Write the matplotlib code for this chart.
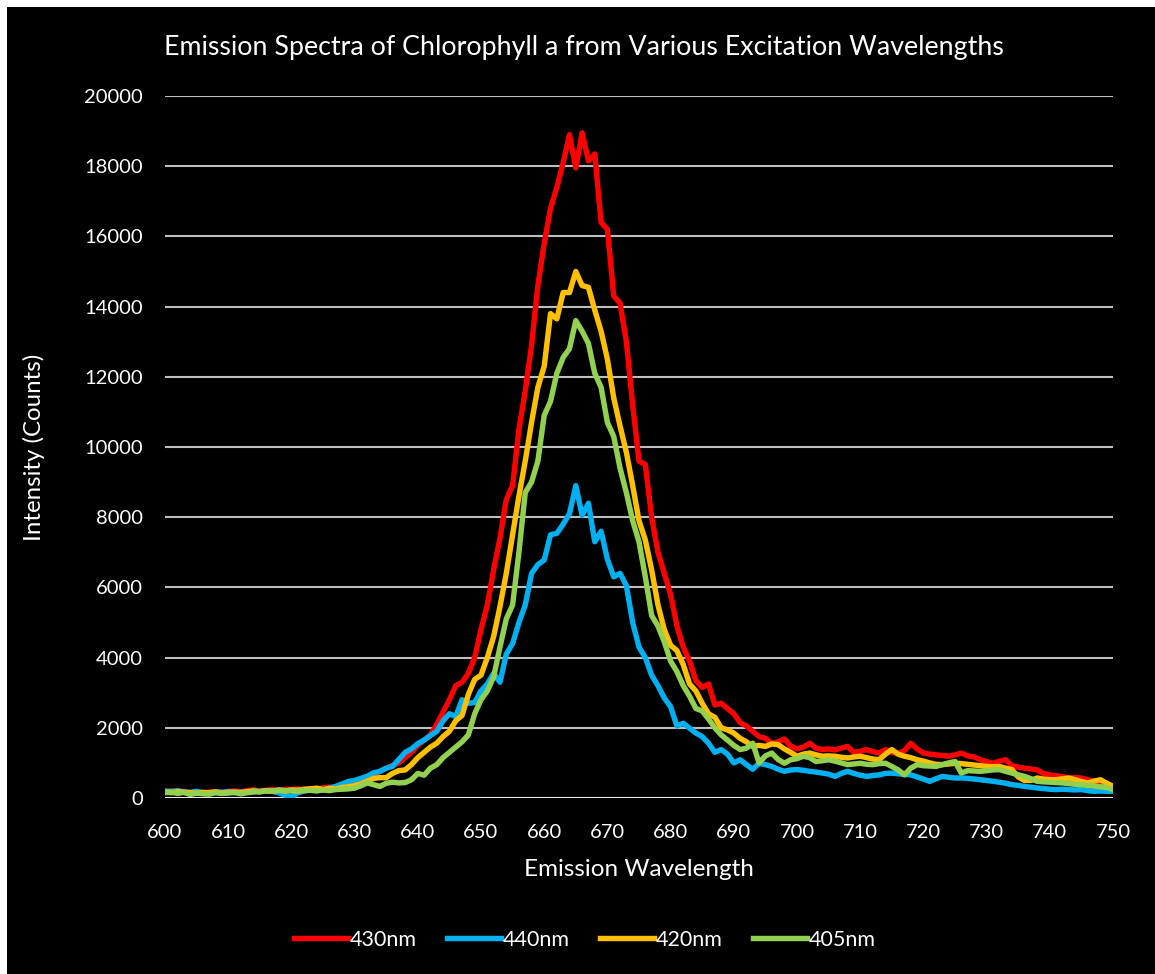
import numpy as np
import matplotlib.pyplot as plt
from matplotlib.patches import Rectangle

# emission wavelength (nm), 1 nm steps
wavelength = list(range(600, 751))

ex_430 = [
    180, 200, 170, 190, 150, 160, 140, 170, 180, 160,
    190, 200, 180, 210, 230, 200, 220, 240, 210, 250,
    240, 260, 230, 270, 260, 290, 310, 300, 350, 380,
    420, 480, 560, 650, 760, 850, 930, 1000, 1150, 1300,
    1500, 1650, 1800, 2100, 2450, 2800, 3200, 3300, 3550, 4000,
    4800, 5500, 6500, 7400, 8500, 8900, 10500, 11600, 12900, 14600,
    15800, 16800, 17400, 18100, 18900, 17950, 18950, 18150, 18350, 16400,
    16200, 14300, 14100, 13000, 11200, 9600, 9500, 8000, 7000, 6400,
    5800, 4900, 4300, 3900, 3350, 3150, 3250, 2650, 2700, 2550,
    2400, 2150, 2050, 1900, 1750, 1700, 1550, 1600, 1680, 1480,
    1400, 1450, 1560, 1420, 1380, 1400, 1370, 1420, 1470, 1300,
    1330, 1380, 1320, 1280, 1380, 1300, 1270, 1350, 1560, 1400,
    1280, 1250, 1230, 1210, 1190, 1230, 1280, 1200, 1170, 1090,
    1040, 990, 1050, 1090, 920, 880, 850, 830, 800, 700,
    660, 630, 610, 570, 580, 570, 520, 475, 450, 420,
    330,
]

ex_440 = [
    200, 180, 210, 170, 160, 190, 150, 140, 170, 160,
    180, 150, 170, 160, 200, 180, 210, 190, 150, 80,
    30, 150, 200, 230, 260, 220, 280, 330, 400, 470,
    500, 560, 620, 720, 760, 850, 900, 1100, 1300, 1400,
    1550, 1650, 1780, 1900, 2200, 2400, 2320, 2800, 2700, 2720,
    3050, 3250, 3550, 3300, 4100, 4400, 5000, 5500, 6400, 6650,
    6780, 7500, 7540, 7800, 8100, 8900, 8050, 8400, 7300, 7600,
    6800, 6300, 6400, 6050, 5000, 4300, 4000, 3500, 3200, 2850,
    2600, 2050, 2130, 1990, 1850, 1750, 1560, 1300, 1380, 1250,
    1000, 1090, 950, 820, 990, 950, 900, 820, 760, 800,
    810, 790, 760, 740, 710, 680, 615, 700, 760, 700,
    650, 615, 640, 660, 700, 710, 690, 670, 660, 600,
    540, 475, 550, 615, 590, 570, 570, 560, 540, 520,
    500, 475, 450, 420, 380, 360, 330, 310, 285, 270,
    250, 240, 250, 240, 230, 240, 210, 190, 200, 190,
    190,
]

ex_420 = [
    170, 150, 180, 160, 150, 140, 160, 150, 170, 140,
    160, 170, 150, 180, 200, 180, 210, 190, 220, 200,
    230, 220, 250, 260, 280, 240, 270, 260, 300, 320,
    350, 400, 480, 560, 580, 580, 700, 780, 800, 950,
    1150, 1300, 1450, 1560, 1750, 1900, 2200, 2350, 2950, 3380,
    3500, 4000, 4600, 5450, 6400, 7500, 8600, 9600, 10700, 11700,
    12300, 13800, 13650, 14400, 14400, 15000, 14600, 14550, 13900, 13300,
    12500, 11400, 10600, 9850, 8900, 7900, 7350, 6500, 5500, 4800,
    4350, 4200, 3800, 3250, 3050, 2700, 2400, 2300, 2000, 1940,
    1850, 1700, 1600, 1470, 1500, 1470, 1540, 1520, 1400, 1300,
    1190, 1250, 1280, 1230, 1190, 1200, 1190, 1160, 1140, 1170,
    1190, 1150, 1110, 1090, 1250, 1380, 1250, 1190, 1150, 1090,
    1050, 1000, 960, 950, 970, 990, 980, 960, 940, 920,
    900, 890, 900, 850, 810, 600, 500, 500, 570, 540,
    520, 520, 550, 570, 520, 470, 430, 480, 520, 420,
    330,
]

ex_405 = [
    150, 170, 130, 160, 100, 140, 120, 110, 150, 130,
    140, 160, 120, 150, 170, 180, 200, 190, 230, 210,
    200, 190, 210, 220, 200, 230, 210, 240, 250, 260,
    280, 350, 430, 380, 330, 420, 450, 430, 440, 520,
    700, 650, 850, 950, 1150, 1300, 1450, 1600, 1800, 2400,
    2800, 3050, 3450, 4300, 5100, 5500, 7000, 8700, 9000, 9600,
    10900, 11300, 12100, 12550, 12800, 13600, 13300, 12950, 12100, 11700,
    10700, 10300, 9400, 8700, 7900, 7300, 6300, 5200, 4900, 4450,
    3900, 3600, 3200, 2900, 2550, 2480, 2250, 2000, 1800, 1650,
    1500, 1380, 1420, 1560, 1000, 1200, 1280, 1100, 990, 1090,
    1120, 1190, 1150, 1040, 1060, 1090, 1050, 1000, 950, 970,
    990, 960, 950, 980, 990, 900, 800, 660, 850, 950,
    920, 910, 900, 950, 1000, 1040, 710, 780, 770, 760,
    780, 800, 810, 760, 710, 660, 615, 550, 475, 460,
    450, 440, 430, 410, 390, 380, 360, 340, 320, 300,
    240,
]

series = [
    ("430nm", ex_430, "#FF0000"),
    ("440nm", ex_440, "#00B0F0"),
    ("420nm", ex_420, "#FFC000"),
    ("405nm", ex_405, "#92D050"),
]

plt.rcParams["font.family"] = ["Lato", "DejaVu Sans"]

fig = plt.figure(figsize=(11.55, 9.74), dpi=100, facecolor="white")
# black chart area (white strip at top and left like the screenshot)
fig.patches.append(Rectangle((7 / 1155, 0), 1, 1 - 7 / 974, transform=fig.transFigure,
                             facecolor="black", edgecolor="none", zorder=-10))

ax = fig.add_axes([165 / 1155, 1 - 798 / 974, (1113 - 165) / 1155, (798 - 96) / 974])
ax.set_zorder(5)
ax.set_facecolor("black")

for name, vals, col in series:
    ax.plot(wavelength, vals, color=col, lw=3.9, label=name, solid_joinstyle="round")

ax.set_xlim(600, 750)
ax.set_ylim(0, 20000)
ax.set_xticks(range(600, 751, 10))
ax.set_yticks(range(0, 20001, 2000))
ax.grid(axis="y", color="#bfbfbf", lw=1.5)
ax.set_axisbelow(True)
ax.axhline(0, color="white", lw=1.8, zorder=1)
for s in ax.spines.values():
    s.set_visible(False)
ax.tick_params(colors="white", labelsize=14.5, length=0)
ax.tick_params(axis="y", pad=16)
ax.tick_params(axis="x", pad=19)

fig.text(584 / 1155, 1 - 47 / 974,
         "Emission Spectra of Chlorophyll a from Various Excitation Wavelengths",
         color="white", fontsize=19.3, ha="center", va="center")
ax.set_xlabel("Emission Wavelength", color="white", fontsize=17.5, labelpad=13)
ax.set_ylabel("Intensity (Counts)", color="white", fontsize=17.3, labelpad=28)

leg = fig.legend(loc="center", bbox_to_anchor=(585 / 1155, 1 - 940 / 974), ncol=4, frameon=False,
                 fontsize=15.5, handlelength=2.5, handletextpad=0.1, columnspacing=1.4)
for t in leg.get_texts():
    t.set_color("white")

fig.savefig("out.png", dpi=100, facecolor=fig.get_facecolor())
